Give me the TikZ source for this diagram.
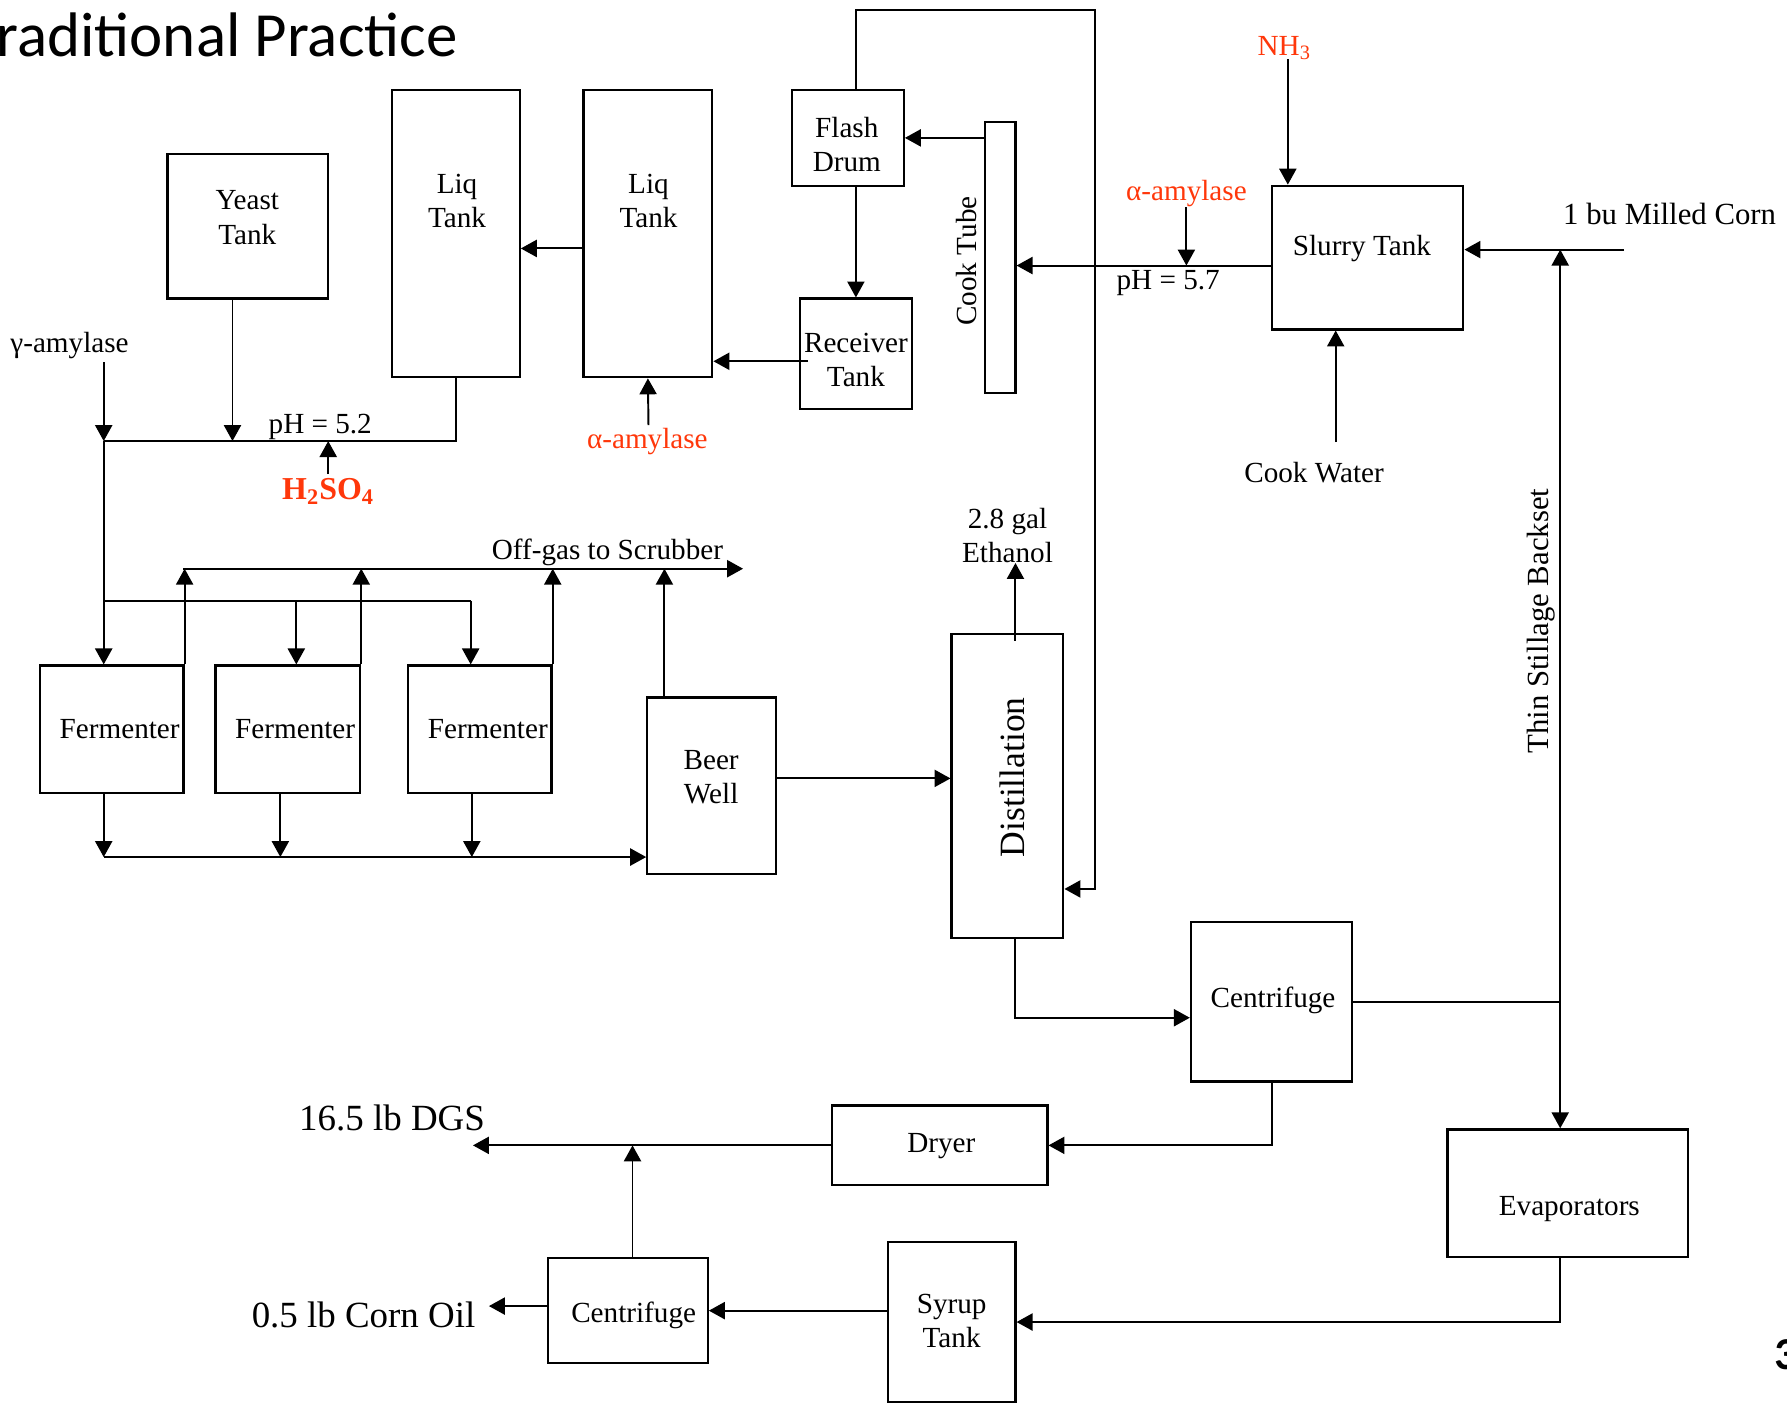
\documentclass[tikz,border=0pt]{standalone}
\usepackage{fontspec}
\setmainfont{Liberation Serif}
\newfontfamily\carlito{Carlito}
\usetikzlibrary{arrows.meta}
\definecolor{orred}{RGB}{255,55,10}
\begin{document}
\begin{tikzpicture}[x=0.5pt,y=-0.5pt,
  box/.style={draw, line width=1pt, rectangle, inner sep=0pt},
  ln/.style={line width=0.85pt},
  arr/.style={line width=0.85pt, -{Triangle[length=7pt,width=7.5pt]}},
  lbl/.style={font=\fontsize{12.8pt}{15pt}\selectfont, align=center, inner sep=0pt},
  redl/.style={lbl, text=orred},
  big/.style={font=\fontsize{16.2pt}{19pt}\selectfont, inner sep=0pt}]
\useasboundingbox (0,0) rectangle (1568,1232);
\clip (0,0) rectangle (1568,1232);
% title and page number
\node[font=\carlito\fontsize{27.6pt}{30pt}\selectfont, anchor=base east, inner sep=0pt] (title) at (402,50) {raditional Practice};
\node[font=\carlito\bfseries\fontsize{20pt}{24pt}\selectfont, anchor=base west, inner sep=0pt] (pnum) at (1557,1202) {3};
% boxes
\node[box, minimum width=141*0.5pt, minimum height=127*0.5pt] (yeast) at (217.5,198.5) {};
\node[box, minimum width=112*0.5pt, minimum height=252*0.5pt] (liq1) at (400,205) {};
\node[box, minimum width=113*0.5pt, minimum height=252*0.5pt] (liq2) at (568.5,205) {};
\node[box, minimum width=98*0.5pt, minimum height=84*0.5pt] (flash) at (744,121) {};
\node[box, minimum width=98*0.5pt, minimum height=97*0.5pt] (recv) at (751,310.5) {};
\node[box, minimum width=27*0.5pt, minimum height=238*0.5pt] (cook) at (877.5,226) {};
\node[box, minimum width=168*0.5pt, minimum height=126*0.5pt] (slurry) at (1200,226) {};
\node[box, minimum width=126*0.5pt, minimum height=112*0.5pt] (f1) at (98,640) {};
\node[box, minimum width=127*0.5pt, minimum height=112*0.5pt] (f2) at (252.5,640) {};
\node[box, minimum width=126*0.5pt, minimum height=112*0.5pt] (f3) at (421,640) {};
\node[box, minimum width=113*0.5pt, minimum height=155*0.5pt] (beer) at (624.5,689.5) {};
\node[box, minimum width=98*0.5pt, minimum height=267*0.5pt] (dist) at (884,689.5) {};
\node[box, minimum width=141*0.5pt, minimum height=140*0.5pt] (cent1) at (1115.5,879) {};
\node[box, minimum width=189*0.5pt, minimum height=70*0.5pt] (dryer) at (824.5,1005) {};
\node[box, minimum width=211*0.5pt, minimum height=112*0.5pt] (evap) at (1375.5,1047) {};
\node[box, minimum width=112*0.5pt, minimum height=140*0.5pt] (syrup) at (835,1160) {};
\node[box, minimum width=140*0.5pt, minimum height=92*0.5pt] (cent2) at (551,1150) {};
% box texts
\node[lbl] (yeast-t) at (217,191) {Yeast\\Tank};
\node[lbl] (liq1-t) at (401,176) {Liq\\Tank};
\node[lbl] (liq2-t) at (569,176) {Liq\\Tank};
\node[lbl] (flash-t) at (743,127) {Flash\\Drum};
\node[lbl] (recv-t) at (751,316) {Receiver\\Tank};
\node[lbl] (slurry-t) at (1195,218) {Slurry Tank};
\node[lbl] (f1-t) at (105,640) {Fermenter};
\node[lbl] (f2-t) at (259,640) {Fermenter};
\node[lbl] (f3-t) at (428,640) {Fermenter};
\node[lbl] (beer-t) at (624,682) {Beer\\Well};
\node[lbl] (cent1-t) at (1117,878) {Centrifuge};
\node[lbl] (cent2-t) at (556,1154) {Centrifuge};
\node[lbl] (dryer-t) at (826,1006) {Dryer};
\node[lbl] (evap-t) at (1377,1061) {Evaporators};
\node[lbl] (syrup-t) at (835,1159) {Syrup\\Tank};
\node[lbl, rotate=90] (cook-t) at (848,229) {Cook Tube};
\node[lbl, rotate=90, font=\fontsize{15.6pt}{18pt}\selectfont] (dist-t) at (888,682) {Distillation};
\node[lbl, rotate=90, font=\fontsize{13.5pt}{16pt}\selectfont] (ts-t) at (1352,545) {Thin Stillage Backset};
% stream labels
\node[lbl] (cw) at (1153,415) {Cook Water};
\node[lbl, font=\fontsize{13.5pt}{16pt}\selectfont] (corn) at (1465,188) {1 bu Milled Corn};
\node[redl] (amy1) at (1041,170) {α-amylase};
\node[redl] (amy2) at (568,387) {α-amylase};
\node[redl] (nh3) at (1127,42) {NH\textsubscript{3}};
\node[lbl] (ph57) at (1025,248) {pH = 5.7};
\node[lbl] (ph52) at (281,375) {pH = 5.2};
\node[lbl] (gam) at (61,303) {γ-amylase};
\node[lbl, text=orred, font=\bfseries\fontsize{14pt}{16pt}\selectfont] (h2so4) at (288,431) {H\textsubscript{2}SO\textsubscript{4}};
\node[lbl] (offgas) at (533,485) {Off-gas to Scrubber};
\node[lbl] (eth) at (884,470) {2.8 gal\\Ethanol};
\node[big] (dgs) at (344,981) {16.5 lb DGS};
\node[big] (oil) at (319,1154) {0.5 lb Corn Oil};
% helper coordinates
\coordinate (top1) at (751,9);
\coordinate (top2) at (961,9);
\coordinate (ret) at (961,780);
\coordinate (y233) at (1041,233);
\coordinate (nhs) at (1130,52);
\coordinate (cornend) at (1425,219);
\coordinate (tsj) at (1369,879);
\coordinate (cws) at (1172,388);
\coordinate (rvs) at (709,317);
\coordinate (am2s) at (569,373);
\coordinate (y218) at (0,218);
\coordinate (j52) at (91,387);
\coordinate (yx) at (204,387);
\coordinate (gs) at (91,318);
\coordinate (hs) at (288,416);
\coordinate (hj) at (288,387);
\coordinate (jb) at (91,527);
\coordinate (jb2) at (260,527);
\coordinate (jb3) at (413,527);
\coordinate (ogs) at (161,499);
\coordinate (og) at (652,499);
\coordinate (bw) at (583,499);
\coordinate (bj) at (91,752);
\coordinate (bj2) at (246,752);
\coordinate (bj3) at (414,752);
\coordinate (y683) at (0,683);
\coordinate (ets) at (891,562);
\coordinate (ete) at (891,494);
\coordinate (dc) at (891,893);
\coordinate (cd) at (1116,1005);
\coordinate (dgsend) at (415,1005);
\coordinate (c2x) at (555,1005);
\coordinate (es) at (1369,1160);
\coordinate (y1146) at (0,1146);
\coordinate (oilend) at (429,1146);
% connectors
\draw[arr] (flash.north -| recv.north) -- (top1) -- (top2) -- (ret) -- (dist.east |- ret);
\draw[arr] (cook.west |- flash.east) -- (flash.east);
\draw[arr] (flash.south -| recv.north) -- (recv.north);
\draw[arr] (slurry.west |- y233) -- (cook.east |- y233);
\draw[arr] (amy1.south |- 0,182) -- (y233);
\draw[arr] (nhs) -- (slurry.north -| nhs);
\draw[arr] (cornend) -- (slurry.east |- cornend);
\draw[ln] (cent1.east) -- (tsj);
\draw[arr] (tsj) -- (tsj |- cornend);
\draw[arr] (tsj) -- (evap.north -| tsj);
\draw[arr] (cws) -- (slurry.south -| cws);
\draw[arr] (rvs) -- (liq2.east |- rvs);
\draw[arr] (am2s) -- (liq2.south);
\draw[arr] (liq2.west |- y218) -- (liq1.east |- y218);
\draw[ln] (liq1.south) -- (liq1.south |- j52) -- (j52);
\draw[arr] (yeast.south -| yx) -- (yx);
\draw[arr] (gs) -- (j52);
\draw[arr] (hs) -- (hj);
\draw[arr] (j52) -- (f1.north -| j52);
\draw[ln] (jb) -- (jb3);
\draw[arr] (jb2) -- (f2.north -| jb2);
\draw[arr] (jb3) -- (f3.north -| jb3);
\draw[arr] (ogs) -- (og);
\draw[arr] (f1.north east) -- (f1.north east |- og);
\draw[arr] (f2.north east) -- (f2.north east |- og);
\draw[arr] (f3.north east) -- (f3.north east |- og);
\draw[arr] (beer.north -| bw) -- (bw);
\draw[arr] (f1.south -| bj) -- (bj);
\draw[arr] (f2.south -| bj2) -- (bj2);
\draw[arr] (f3.south -| bj3) -- (bj3);
\draw[arr] (bj) -- (beer.west |- bj);
\draw[arr] (beer.east |- y683) -- (dist.west |- y683);
\draw[arr] (ets) -- (ete);
\draw[arr] (dist.south -| dc) -- (dc) -- (cent1.west |- dc);
\draw[arr] (cent1.south -| cd) -- (cd) -- (dryer.east);
\draw[arr] (dryer.west) -- (dgsend);
\draw[arr] (cent2.north -| c2x) -- (c2x);
\draw[arr] (evap.south -| es) -- (es) -- (syrup.east |- es);
\draw[arr] (syrup.west |- cent2.east) -- (cent2.east);
\draw[arr] (cent2.west |- y1146) -- (oilend);
\end{tikzpicture}
\end{document}
